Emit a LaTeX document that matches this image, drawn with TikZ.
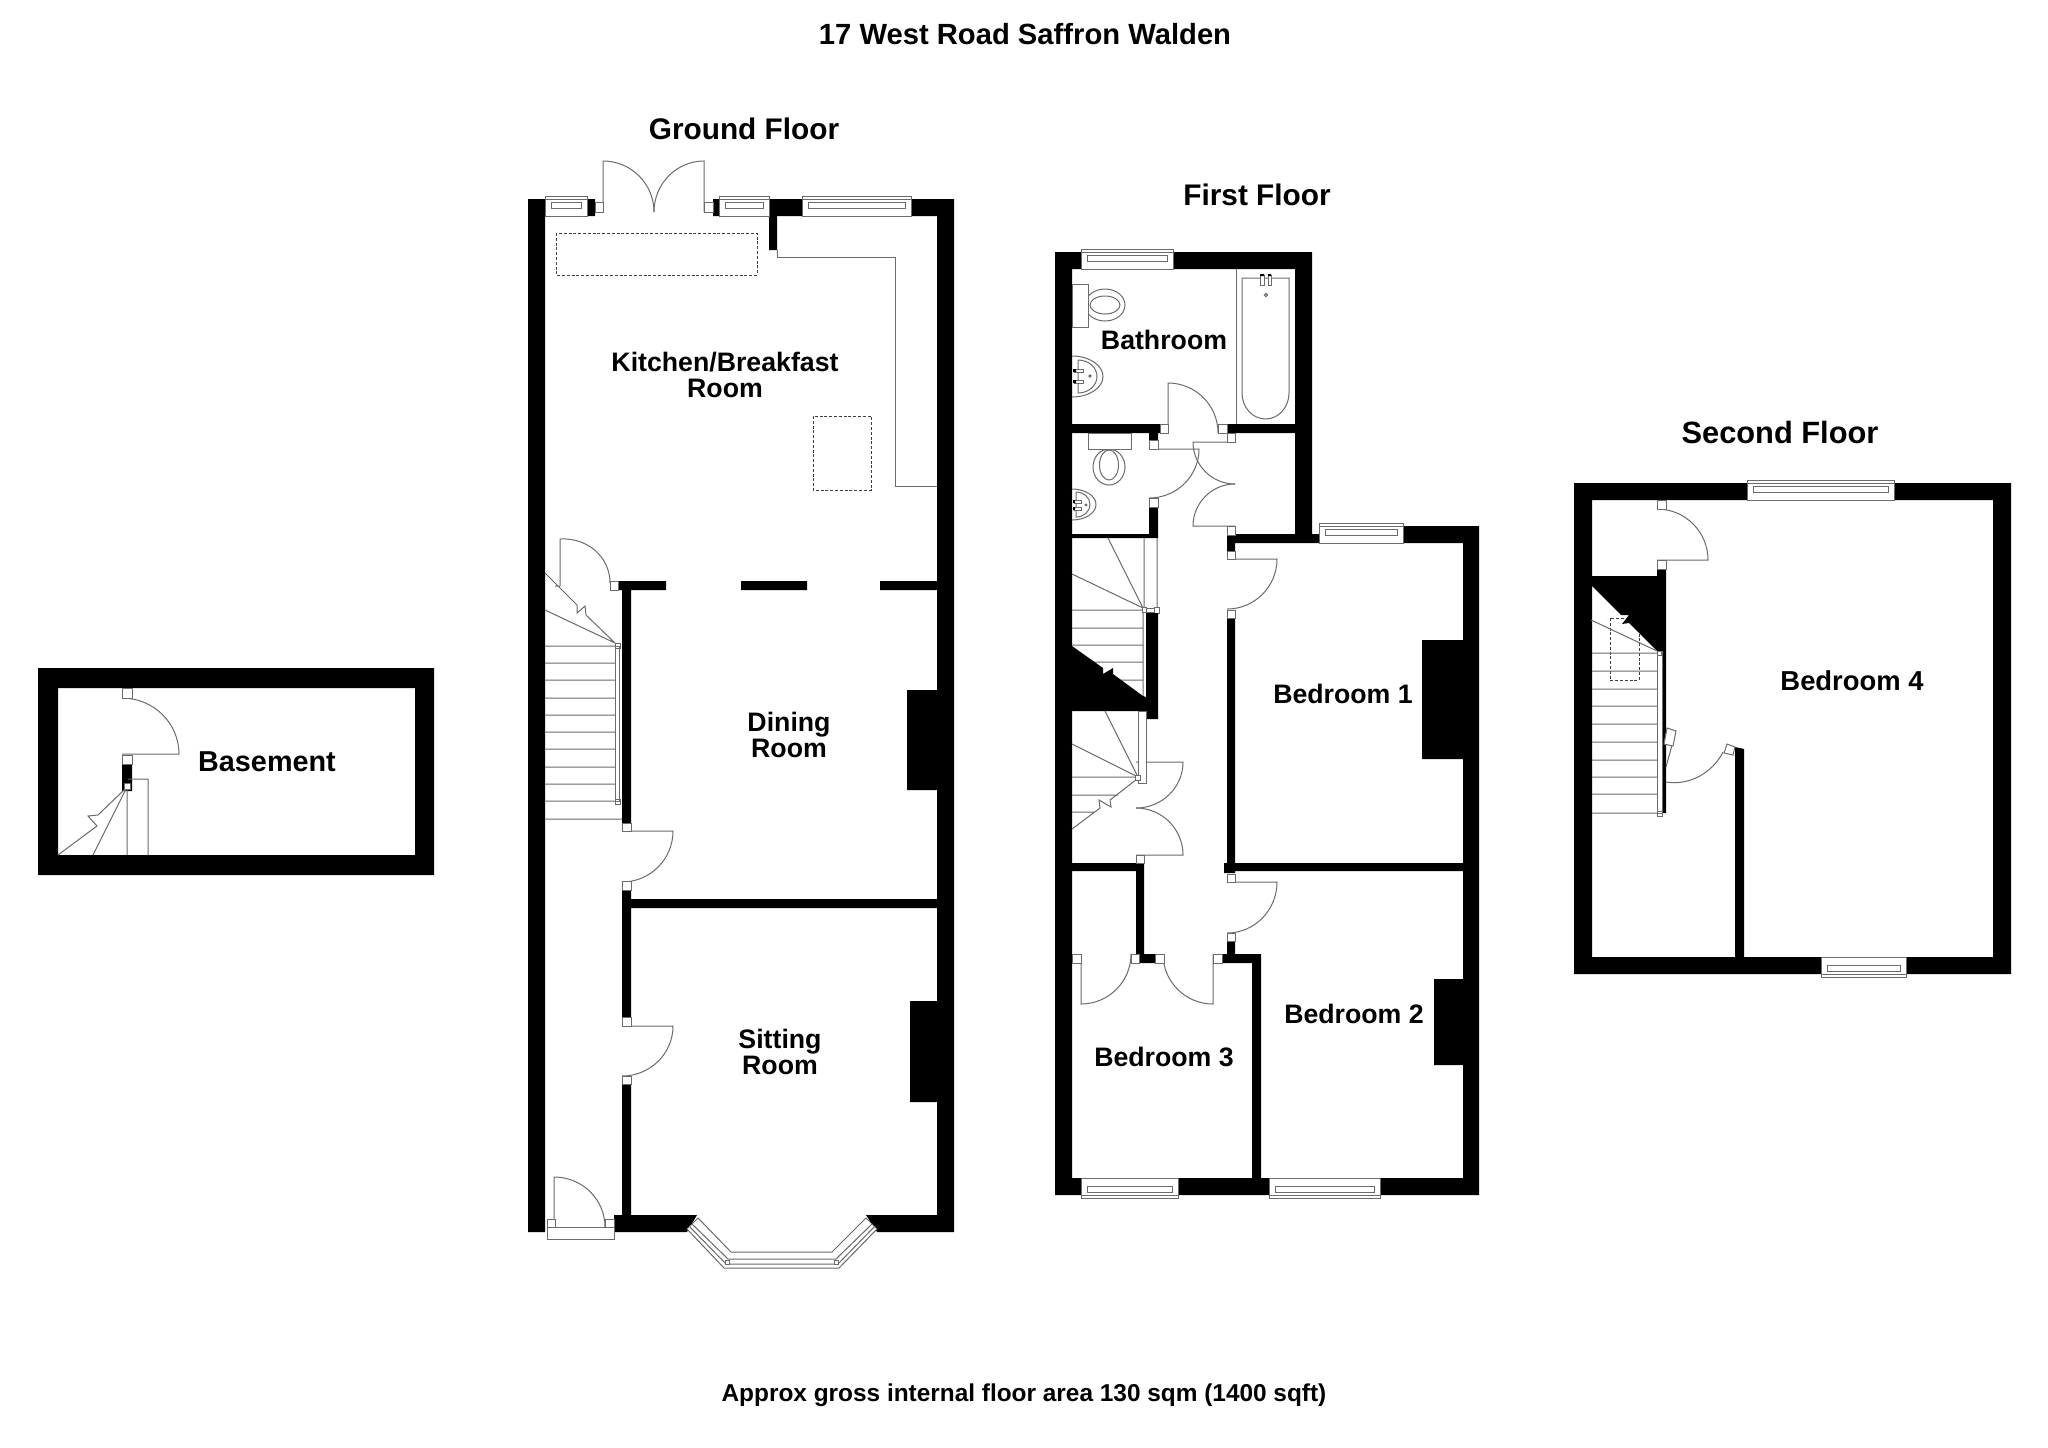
\documentclass[tikz,border=0pt]{standalone}
\usepackage{fontspec}
\usepackage{tikz}
\usetikzlibrary{calc}
\setmainfont{Liberation Sans}

\newcommand{\door}[3]{\draw[fitting] (#1) -- (#2) .. controls ($(#2)+.5523*(#3)-.5523*(#1)$) and ($(#3)+.5523*(#2)-.5523*(#1)$) .. (#3);}
\newcommand{\hwindow}[4]{%
  \pgfmathsetmacro{\wdir}{(#4-#3)/20}
  \draw[fitting,fill=white] (#1,#3) rectangle (#2,#4);
  \draw[fitting] (#1,{#3+3*\wdir}) -- (#2,{#3+3*\wdir})
    ({#1+6},{#3+6*\wdir}) rectangle ({#2-6},{#3+12*\wdir});}

\begin{document}
\begin{tikzpicture}[x=.5pt,y=-.5pt,
  wall/.style={fill=black},
  fitting/.style={draw=black!58,line width=.5pt},
  jamb/.style={fitting,fill=white},
  hidden line/.style={draw=black!75,line width=.5pt,dash pattern=on 1.5pt off .9pt},
  room label/.style={font=\bfseries\fontsize{13.35}{13.2}\selectfont,align=center,inner sep=0pt},
  floor title/.style={font=\bfseries\fontsize{14.9}{15}\selectfont,inner sep=0pt}]
  \path[use as bounding box,fill=white] (0,0) rectangle (2048,1447);

  \node[floor title,font=\bfseries\fontsize{14.6}{15}\selectfont] (title) at (1025,34) {17 West Road Saffron Walden};
  \node[floor title] (ground) at (744,129) {Ground Floor};
  \node[floor title] (first) at (1257,195) {First Floor};
  \node[floor title,font=\bfseries\fontsize{15.4}{15}\selectfont] (second) at (1780,432) {Second Floor};
  \node[room label,font=\bfseries\fontsize{12.2}{13}\selectfont] (area) at (1024,1395) {Approx gross internal floor area 130 sqm (1400 sqft)};

  % basement
  \fill[wall] (38,668) rectangle (434,688) (38,855) rectangle (434,875)
    (38,668) rectangle (58,875) (415,668) rectangle (434,875)
    (122,764) rectangle (132,791);
  \door{122,754}{179,754}{122,698}
  \path[jamb] (122,688) rectangle (132,698) (122,755) rectangle (132,764);
  \draw[fitting] (128,779) -- (148,779) -- (148,855) (127,789) -- (127,855)
    (126,789) -- (93,855)
    (125,789) -- (98,815) -- (88,816) -- (97,826) -- (58,855);
  \path[jamb] (124,783) rectangle (130,789);
  \node[room label,font=\bfseries\fontsize{14.4}{15}\selectfont] (basement) at (267,762) {Basement};

  % ground floor
  \fill[wall] (528,199) rectangle (545,1232) (937,199) rectangle (954,1232)
    (587,199) rectangle (595,216) (713,199) rectangle (719,216)
    (769,199) rectangle (802,216) (911,199) rectangle (937,216)
    (769,216) rectangle (777,250)
    (618,581) rectangle (666,590) (741,581) rectangle (807,590) (880,581) rectangle (937,590)
    (622,590) rectangle (631,823) (622,890) rectangle (631,1017)
    (622,1084) rectangle (631,1215) (631,899) rectangle (937,908)
    (907,690) rectangle (937,790) (910,1001) rectangle (937,1102)
    (614,1215) -- (697,1215) -- (687,1232) -- (614,1232) -- cycle
    (866,1215) -- (937,1215) -- (937,1232) -- (877,1232) -- cycle;
  \hwindow{545}{587}{196}{216}
  \hwindow{719}{769}{196}{216}
  \hwindow{802}{911}{196}{216}
  \door{603,212}{603,161}{654,212}
  \door{704,212}{704,161}{654,212}
  \door{560,586}{560,539}{610,583}
  \door{622,831}{673,831}{622,882}
  \door{622,1026}{673,1026}{622,1076}
  \door{554,1227}{554,1177}{605,1227}
  \path[jamb] (595,202) rectangle (603,212) (704,202) rectangle (713,212)
    (610,581) rectangle (618,590) (622,823) rectangle (631,831)
    (622,881) rectangle (631,890) (622,1017) rectangle (631,1026)
    (622,1076) rectangle (631,1084) (547,1219) rectangle (555,1227)
    (605,1219) rectangle (614,1227) (547,1227) rectangle (614,1239);
  \draw[fitting] (777,250) -- (777,257) -- (895,257) -- (895,486) -- (937,486);
  \draw[hidden line] (556,233) rectangle (757,275) (813,416) rectangle (871,490);
  \draw[fitting] (545,646) -- (615,646) (545,663) -- (615,663) (545,680) -- (615,680)
    (545,698) -- (615,698) (545,715) -- (615,715) (545,732) -- (615,732)
    (545,749) -- (615,749) (545,767) -- (615,767) (545,784) -- (615,784)
    (545,801) -- (615,801) (545,819) -- (622,819)
    (615,643) -- (545,610)
    (545,573) -- (577,605) -- (577,613) -- (585,606) -- (586,615) -- (615,643)
    (555,586) -- (560,586);
  \path[jamb] (615,646) rectangle (619,801) (615,643) rectangle (620,648) (615,799) rectangle (620,804);
  \draw[fitting,fill=white] (687,1229) -- (724,1268) -- (839,1268) -- (877,1229)
    -- (866,1218) -- (832,1252) -- (731,1252) -- (698,1218) -- cycle;
  \draw[fitting] (689.5,1226.5) -- (726,1264) -- (838,1264) -- (874.5,1226.5)
    (692,1224) -- (728,1259) -- (836,1259) -- (872,1224);
  \path[jamb] (725,1260) rectangle (729,1264) (834,1260) rectangle (838,1264);
  \node[room label] (kitchen) at (725,375) {Kitchen/Breakfast\\Room};
  \node[room label] (dining) at (789,735) {Dining\\Room};
  \node[room label] (sitting) at (780,1052) {Sitting\\Room};

  % first floor
  \fill[wall] (1055,252) rectangle (1072,1195) (1055,252) rectangle (1081,269)
    (1173,252) rectangle (1312,269) (1295,269) rectangle (1312,543)
    (1235,534) rectangle (1319,543) (1403,526) rectangle (1479,543)
    (1463,526) rectangle (1479,1195) (1055,1178) rectangle (1081,1195)
    (1178,1178) rectangle (1269,1195) (1380,1178) rectangle (1479,1195)
    (1072,424) rectangle (1160,433) (1227,424) rectangle (1295,433)
    (1149,433) rectangle (1158,440) (1149,507) rectangle (1158,535)
    (1072,534) rectangle (1158,538) (1227,535) rectangle (1235,551)
    (1227,618) rectangle (1235,863) (1224,863) rectangle (1235,873)
    (1235,863) rectangle (1463,871) (1072,863) rectangle (1144,871)
    (1136,871) rectangle (1144,954) (1139,954) rectangle (1155,963)
    (1227,941) rectangle (1235,954) (1222,954) rectangle (1261,963)
    (1252,963) rectangle (1261,1178)
    (1422,640) rectangle (1463,759) (1434,979) rectangle (1463,1065);
  \hwindow{1081}{1173}{249}{269}
  \hwindow{1319}{1403}{523}{543}
  \hwindow{1081}{1178}{1198}{1178}
  \hwindow{1269}{1380}{1198}{1178}
  \door{1168,433}{1168,383}{1218,433}
  \door{1235,442}{1193,442}{1235,484}
  \door{1235,526}{1193,526}{1235,484}
  \door{1149,449}{1199,449}{1149,498}
  \door{1227,559}{1277,559}{1227,609}
  \door{1136,762}{1183,762}{1136,808}
  \door{1136,855}{1183,855}{1136,808}
  \door{1227,882}{1277,882}{1227,933}
  \door{1213,954}{1213,1004}{1163,954}
  \door{1081,954}{1081,1004}{1131,954}
  \path[jamb] (1160,424) rectangle (1168,433) (1218,424) rectangle (1227,433)
    (1227,433) rectangle (1235,442) (1149,440) rectangle (1158,449)
    (1149,498) rectangle (1158,507) (1227,526) rectangle (1235,535)
    (1227,551) rectangle (1235,559) (1227,610) rectangle (1235,618)
    (1136,855) rectangle (1144,863) (1227,874) rectangle (1235,882)
    (1227,933) rectangle (1235,941) (1213,954) rectangle (1222,963)
    (1155,954) rectangle (1164,963) (1131,954) rectangle (1139,963)
    (1072,954) rectangle (1081,963);
  % bath and basins
  \draw[fitting] (1236,269) -- (1236,424);
  \draw[fitting] (1242,393) -- (1242,278) -- (1289,278) -- (1289,393) arc[start angle=0,end angle=180,x radius=23.5,y radius=26];
  \path[jamb] (1260,275) rectangle (1264,285) (1268,275) rectangle (1271,285);
  \fill[wall] (1260,274) rectangle (1264,276) (1268,274) rectangle (1271,276);
  \draw[fitting] (1266,295) circle [radius=1.6];
  \draw[fitting] (1105,305) ellipse [x radius=20,y radius=16] (1105,305) ellipse [x radius=15,y radius=9];
  \draw[jamb] (1072,284) rectangle (1088,327);
  \draw[fitting] (1072,356) arc[start angle=-90,end angle=90,x radius=31,y radius=20.5]
    (1078,360) arc[start angle=-90,end angle=90,x radius=19,y radius=16.5] -- (1078,360);
  \path[jamb] (1074,369) rectangle (1083,372) (1074,380) rectangle (1083,383);
  \fill[wall] (1073,369) rectangle (1076,372) (1073,380) rectangle (1076,383);
  \draw[fitting] (1090,376) circle [radius=1.2];
  \draw[fitting] (1109,467) ellipse [x radius=16,y radius=18] (1109,465) ellipse [x radius=9.5,y radius=15];
  \draw[jamb] (1088,433) rectangle (1131,449);
  \draw[fitting] (1072,489) arc[start angle=-90,end angle=90,x radius=24,y radius=15.5]
    (1076,492) arc[start angle=-90,end angle=90,x radius=14,y radius=12.5] -- (1076,492);
  \path[jamb] (1074,500) rectangle (1081,503) (1074,507) rectangle (1081,510);
  \fill[wall] (1073,500) rectangle (1075,503) (1073,507) rectangle (1075,510);
  \draw[fitting] (1086,505) circle [radius=1];
  % first floor stairs
  \draw[fitting] (1072,610) -- (1142,610) (1072,628) -- (1143,628) (1072,645) -- (1143,645)
    (1072,662) -- (1143,662) (1072,680) -- (1143,680) (1143,610) -- (1143,697)
    (1144,538) -- (1144,608) (1157,538) -- (1157,608)
    (1108,538) -- (1143,608) (1072,574) -- (1143,608);
  \path[jamb] (1146,608) rectangle (1154,612) (1142,607) rectangle (1146,612) (1154,607) rectangle (1159,613);
  \fill[wall] (1146,613) rectangle (1158,719)
    (1072,646) -- (1103,668) -- (1103,674) -- (1113,668) -- (1113,674) -- (1143,696) -- (1146,697) -- (1146,711) -- (1072,711) -- cycle;
  \path[jamb] (1138,711) rectangle (1146,783);
  \draw[fitting] (1105,711) -- (1138,777) (1072,744) -- (1138,777) (1072,777) -- (1138,777)
    (1072,795) -- (1118,795) (1072,812) -- (1094,812)
    (1137,779) -- (1110,800) -- (1111,807) -- (1099,800) -- (1100,808) -- (1072,829);
  \path[jamb] (1135,775) rectangle (1140,780);
  \node[room label] (bathroom) at (1164,340) {Bathroom};
  \node[room label] (bedone) at (1343,694) {Bedroom 1};
  \node[room label] (bedtwo) at (1354,1014) {Bedroom 2};
  \node[room label] (bedthree) at (1164,1057) {Bedroom 3};

  % second floor
  \draw[hidden line] (1610,618) rectangle (1639,680);
  \fill[wall] (1574,483) rectangle (1592,974) (1993,483) rectangle (2011,974)
    (1592,483) rectangle (1747,500) (1894,483) rectangle (1993,500)
    (1592,957) rectangle (1821,974) (1906,957) rectangle (1993,974)
    (1735,760) rectangle (1744,957) (1735,747) -- (1744,749) -- (1744,760) -- (1735,760) -- cycle
    (1662,651) rectangle (1666,813)
    (1592,576) -- (1657,576) -- (1657,569) -- (1666,569) -- (1666,651) -- (1657,651) -- (1629,623) -- (1622,624) -- (1629,615) -- (1621,615) -- (1592,586) -- cycle;
  \hwindow{1747}{1894}{480}{500}
  \hwindow{1821}{1906}{977}{957}
  \door{1657,560}{1708,560}{1657,509}
  \path[jamb] (1657,500) rectangle (1666,509) (1657,560) rectangle (1666,569);
  \draw[fitting] (1666,782) .. controls (1690,786) and (1713,772) .. (1723,752)
    (1666,767) -- (1672,745);
  \draw[jamb] (1667,728) -- (1676,731) -- (1673,746) -- (1664,744) -- cycle
    (1727,744) -- (1735,747) -- (1733,755) -- (1724,753) -- cycle;
  \draw[fitting] (1592,653) -- (1657,653) (1592,671) -- (1657,671) (1592,689) -- (1657,689)
    (1592,706) -- (1657,706) (1592,724) -- (1657,724) (1592,742) -- (1657,742)
    (1592,760) -- (1657,760) (1592,777) -- (1657,777) (1592,794) -- (1657,794)
    (1592,813) -- (1657,813) (1591,620) -- (1657,651);
  \path[jamb] (1657,651) rectangle (1662,813) (1657,651) rectangle (1661,655) (1657,811) rectangle (1662,816);
  \node[room label,font=\bfseries\fontsize{13.7}{15}\selectfont] (bedfour) at (1852,681) {Bedroom 4};
\end{tikzpicture}
\end{document}
